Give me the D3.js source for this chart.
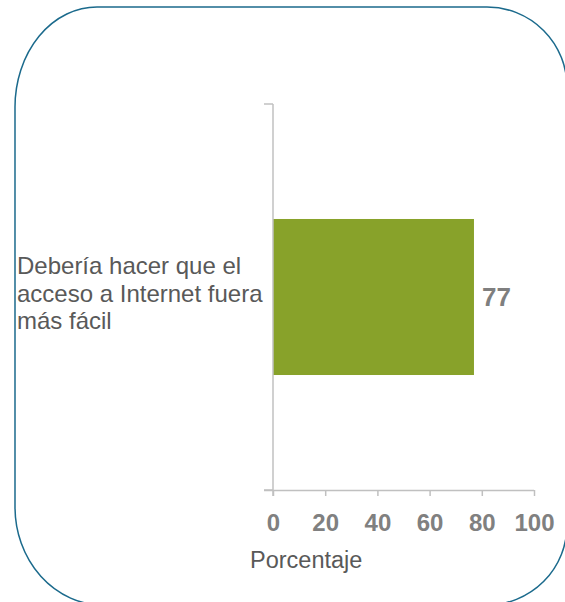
<!DOCTYPE html>
<html>
<head>
<meta charset="utf-8">
<script src="https://cdn.jsdelivr.net/npm/d3@7/dist/d3.min.js"></script>
<style>
  html, body { margin: 0; padding: 0; background: #fff; }
  svg { display: block; }
</style>
</head>
<body>
<script>
const categories = ["Debería hacer que el acceso a Internet fuera más fácil"];
const categoryLines = [["Debería hacer que el", "acceso a Internet fuera", "más fácil"]];
const values = [77];
const xTicks = [0, 20, 40, 60, 80, 100];
const xTitle = "Porcentaje";

const W = 565, H = 602;
const svg = d3.select("body").append("svg").attr("width", W).attr("height", H);

// rounded frame
const L = 15, T = 7, R = 567, B = 605;
const framePath = [
  `M${L + 82},${T}`,
  `L${R - 80},${T}`,
  `A80,80 0 0 1 ${R},${T + 80}`,
  `L${R},${B - 80}`,
  `A80,80 0 0 1 ${R - 80},${B}`,
  `L${L + 88},${B}`,
  `A88,98 0 0 1 ${L},${B - 98}`,
  `L${L},${T + 100}`,
  `A82,100 0 0 1 ${L + 82},${T}`,
  "Z"
].join(" ");
svg.append("path").attr("d", framePath)
  .attr("fill", "none").attr("stroke", "#1b6a8c").attr("stroke-width", 1.5);

const x0 = 273, x1 = 534, yTop = 104, yBot = 490;
const x = d3.scaleLinear().domain([0, 100]).range([x0, x1]);
const y = d3.scaleBand().domain(categories).range([yTop, yBot]).paddingInner(0).paddingOuter(0.737);

const axisColor = "#c0c0c0";

// bars
svg.selectAll("rect.bar").data(values).join("rect")
  .attr("class", "bar")
  .attr("x", x(0))
  .attr("y", (d, i) => y(categories[i]))
  .attr("width", d => x(d) - x(0))
  .attr("height", y.bandwidth())
  .attr("fill", "#88a22a");

// x axis
const xAxis = svg.append("g").attr("transform", `translate(0,${yBot})`)
  .call(d3.axisBottom(x).tickValues(xTicks).tickSize(6).tickSizeOuter(0).tickFormat(d3.format("d")));
xAxis.select(".domain").attr("d", `M${x0 - 9},0.5H${x1}`).attr("stroke", axisColor).attr("stroke-width", 1.5);
xAxis.selectAll(".tick line").attr("stroke", axisColor).attr("stroke-width", 1.5);
xAxis.selectAll(".tick text")
  .attr("y", 24).attr("dy", "0.71em")
  .attr("fill", "#808080")
  .style("font-family", "'Liberation Sans', Arial, sans-serif")
  .style("font-size", "24px").style("font-weight", "bold");

// y axis (category axis): line plus ticks at band edges
const yAxisG = svg.append("g");
yAxisG.append("line").attr("x1", x0).attr("x2", x0).attr("y1", yTop).attr("y2", yBot + 6)
  .attr("stroke", axisColor).attr("stroke-width", 1.5);
[yTop, yBot].forEach(v => {
  yAxisG.append("line").attr("x1", x0 - 9).attr("x2", x0).attr("y1", v).attr("y2", v)
    .attr("stroke", axisColor).attr("stroke-width", 1.5);
});

// category label
categoryLines.forEach((lines, i) => {
  const c = y(categories[i]) + y.bandwidth() / 2;
  const t = svg.append("text")
    .attr("fill", "#595959")
    .style("font-family", "'Liberation Sans', Arial, sans-serif")
    .style("font-size", "24px");
  lines.forEach((ln, j) => {
    t.append("tspan").attr("x", 17).attr("y", c - 23 + j * 27.5).text(ln);
  });
});

// value label
svg.selectAll("text.val").data(values).join("text")
  .attr("class", "val")
  .attr("x", d => x(d) + 8)
  .attr("y", (d, i) => y(categories[i]) + y.bandwidth() / 2 + 9)
  .attr("fill", "#7f7f7f")
  .style("font-family", "'Liberation Sans', Arial, sans-serif")
  .style("font-size", "26px").style("font-weight", "bold")
  .text(d => d);

// x title
svg.append("text").attr("x", 250).attr("y", 568)
  .attr("fill", "#595959")
  .style("font-family", "'Liberation Sans', Arial, sans-serif")
  .style("font-size", "23.5px")
  .text(xTitle);
</script>
</body>
</html>
